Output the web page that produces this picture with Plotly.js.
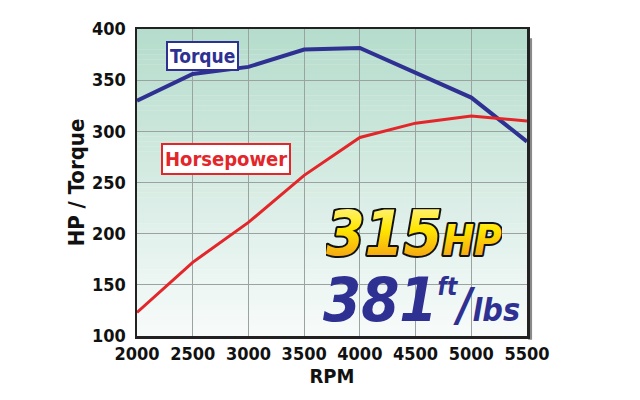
<!DOCTYPE html>
<html>
<head>
<meta charset="utf-8">
<script src="https://cdn.plot.ly/plotly-3.0.1.min.js"></script>
<style>
html,body{margin:0;padding:0;background:#fff;}
#chart{width:640px;height:400px;}
.annotation[data-index="2"] text, .annotation[data-index="2"] tspan{
  fill:url(#gold) !important;
  stroke:#111 !important;stroke-width:4px !important;paint-order:stroke fill;stroke-linejoin:round;
}
</style>
</head>
<body>
<svg width="0" height="0" style="position:absolute">
  <defs>
    <linearGradient id="gold" x1="0" y1="0" x2="0" y2="1">
      <stop offset="0" stop-color="#fff9b0"/>
      <stop offset="0.45" stop-color="#ffe600"/>
      <stop offset="1" stop-color="#f08a1c"/>
    </linearGradient>
  </defs>
</svg>
<div id="chart"></div>
<script>
const rpm = [2000, 2500, 3000, 3500, 4000, 4500, 5000, 5500];
const torque = [330, 356, 363, 380, 381.5, 357, 333, 290];
const horsepower = [123, 172, 211, 257, 294, 308, 315, 310];
const xTicks = [2000, 2500, 3000, 3500, 4000, 4500, 5000, 5500];
const yTicks = [100, 150, 200, 250, 300, 350, 400];

const FONT = '"DejaVu Sans Condensed", "Liberation Sans Narrow", sans-serif';

// vertical gradient background stripes
const shapes = [];
const N = 60;
const topCol = [181, 220, 204], botCol = [247, 251, 250];
for (let i = 0; i < N; i++) {
  const t = i / (N - 1);
  const c = topCol.map((v, k) => Math.round(v + (botCol[k] - v) * t));
  shapes.push({type: 'rect', xref: 'paper', yref: 'paper', x0: 0, x1: 1,
    y0: 1 - (i + 1) / N, y1: 1 - i / N + 0.001, fillcolor: `rgb(${c[0]},${c[1]},${c[2]})`,
    line: {width: 0}, layer: 'below'});
}
// drop shadow right
shapes.push({type: 'rect', xref: 'paper', yref: 'paper', x0: 1.003, x1: 1.013, y0: -0.012, y1: 0.97,
  fillcolor: '#8a8a8a', line: {width: 0}, layer: 'below'});

const traces = [
  {x: rpm, y: torque, type: 'scatter', mode: 'lines', name: 'Torque',
   line: {color: '#2e3192', width: 4}, hoverinfo: 'skip'},
  {x: rpm, y: horsepower, type: 'scatter', mode: 'lines', name: 'Horsepower',
   line: {color: '#e3262a', width: 3}, hoverinfo: 'skip'}
];

const layout = {
  width: 640, height: 400,
  margin: {l: 137, r: 113, t: 29, b: 64},
  paper_bgcolor: '#ffffff',
  plot_bgcolor: 'rgba(0,0,0,0)',
  showlegend: false,
  font: {family: FONT, color: '#111', weight: 700},
  xaxis: {
    range: [2000, 5500], tickvals: xTicks, ticktext: xTicks.map(String),
    showgrid: true, gridcolor: '#9aa39f', gridwidth: 1,
    showline: true, linecolor: '#222', linewidth: 2.5, mirror: true,
    ticks: '', ticklen: 0, zeroline: false,
    tickfont: {family: FONT, size: 18, color: '#111', weight: 700},
    title: {text: 'RPM', font: {family: FONT, size: 20, color: '#111', weight: 700}, standoff: 6}
  },
  yaxis: {
    range: [100, 400], tickvals: yTicks, ticktext: yTicks.map(String),
    showgrid: true, gridcolor: '#9aa39f', gridwidth: 1,
    showline: true, linecolor: '#222', linewidth: 2.5, mirror: true,
    ticks: '', zeroline: false, ticklabelstandoff: 5,
    tickfont: {family: FONT, size: 18, color: '#111', weight: 700},
    title: {text: 'HP / Torque', font: {family: FONT, size: 22, color: '#111', weight: 700}, standoff: 2}
  },
  shapes: shapes,
  annotations: [
    {x: 2592, y: 374, xref: 'x', yref: 'y', text: 'Torque', showarrow: false,
     font: {family: FONT, size: 19, color: '#2e3192', weight: 700},
     bgcolor: '#ffffff', bordercolor: '#2e3192', borderwidth: 2, borderpad: 2},
    {x: 2799, y: 272.5, xref: 'x', yref: 'y', text: 'Horsepower', showarrow: false,
     font: {family: FONT, size: 20, color: '#e3262a', weight: 700},
     bgcolor: '#ffffff', bordercolor: '#e3262a', borderwidth: 2, borderpad: 2},
    {x: 4485, y: 201, xref: 'x', yref: 'y', text: '<i>315<span style="font-size:42px">HP</span></i>',
     showarrow: false, yanchor: 'middle', height: 50,
     font: {family: FONT, size: 62, color: '#ffd200', weight: 900}},
    {x: 4550, y: 136, xref: 'x', yref: 'y',
     text: '<i>381<sup><span style="font-size:24px">ft</span></sup><span style="font-size:46px">/</span><span style="font-size:32px">lbs</span></i>',
     showarrow: false, height: 56,
     font: {family: FONT, size: 61, color: '#2e3192', weight: 900}}
  ]
};

Plotly.newPlot('chart', traces, layout, {staticPlot: true, displayModeBar: false});
</script>
</body>
</html>
